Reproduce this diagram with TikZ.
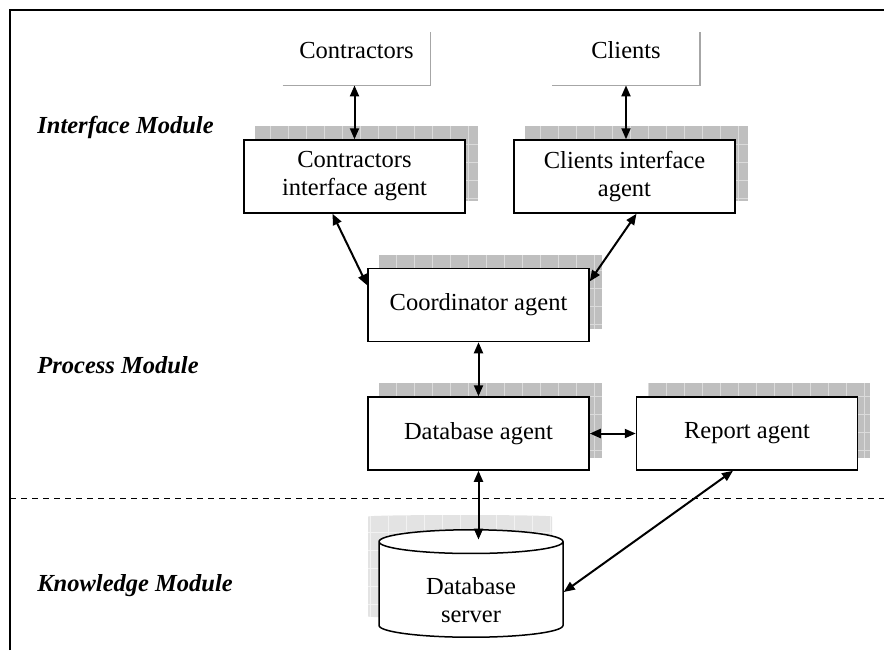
\documentclass[tikz,border=0pt]{standalone}
\usepackage{fontspec}
\setmainfont{Liberation Serif}
\usetikzlibrary{arrows.meta}
\usetikzlibrary{shapes.geometric}
\usetikzlibrary{backgrounds}

\newcommand{\gridshadow}[1]{%
  \begin{scope}[on background layer]
    \fill [gray!50] ([shift={(12,-13)}]#1.south west) rectangle ([shift={(12,-13)}]#1.north east);
    \begin{scope}
      \clip ([shift={(12,-13)}]#1.south west) rectangle ([shift={(12,-13)}]#1.north east);
      \draw [gray!28, line width=.4pt, step=9pt] ([shift={(12,-13)}]#1.south west) grid ([shift={(12,-13)}]#1.north east);
    \end{scope}
  \end{scope}}

\begin{document}
\begin{tikzpicture}[x=.5pt, y=-.5pt,
  font=\fontsize{12.25}{14}\selectfont,
  agent/.style={rectangle, draw, fill=white, line width=.75pt, minimum width=110.5pt, minimum height=36.5pt, align=center, inner sep=2pt},
  actor/.style={rectangle, minimum width=73.5pt, minimum height=26.5pt, text height=6pt, text depth=6pt},
  dbstore/.style={cylinder, shape border rotate=90, aspect=.23, draw, fill=white, line width=.75pt, minimum width=92pt, minimum height=51.5pt, align=center, anchor=shape center},
  module/.style={anchor=west, inner sep=0pt, font=\fontsize{12.25}{14}\selectfont\bfseries\itshape},
  link/.style={{Triangle[length=5.5pt,width=4.5pt]}-{Triangle[length=5.5pt,width=4.5pt]}, line width=1pt}]
\useasboundingbox (0,0) rectangle (884,650);

% frame and module border
\coordinate (fbl) at (10,650);
\coordinate (ftl) at (10,10);
\coordinate (ftr) at (884,10);
\draw [line width=1pt] (fbl) -- (ftl) -- (ftr);
\coordinate (dl) at (10,498);
\coordinate (dr) at (884,498);
\draw [line width=.5pt, dash pattern=on 3pt off 2.5pt] (dl) -- (dr);

\node [module] (imod) at (37,127) {Interface Module};
\node [module] (pmod) at (37,365) {Process Module};
\node [module] (kmod) at (37,586) {Knowledge Module};

% users
\node [actor] (contr) at (356.5,58.5) {Contractors};
\node [actor] (cli) at (626,58.5) {Clients};
\draw [gray!70, line width=.75pt] (contr.south west) -- (contr.south east) -- (contr.north east);
\draw [gray!70, line width=.75pt] (cli.south west) -- (cli.south east) -- (cli.north east);

% agents
\node [agent] (cia) at (354.5,176.5) {Contractors\\interface agent};
\node [agent] (clia) at (624.5,176.5) {Clients interface\\agent};
\node [agent] (coord) at (478.5,305) {Coordinator agent};
\node [agent] (dba) at (478.5,433.5) {Database agent};
\node [agent] (rep) at (747,433.5) {Report agent};
\gridshadow{cia}
\gridshadow{clia}
\gridshadow{coord}
\gridshadow{dba}
\gridshadow{rep}

% database server
\node [dbstore, fill=gray!22, draw=none, path picture={\draw [gray!10, line width=.4pt, step=9pt] (path picture bounding box.south west) grid (path picture bounding box.north east);}] (dbsh) at (460,566.5) {};
\node [dbstore] (db) at (471,583.5) {\rule{0pt}{17pt}Database\\server};
\coordinate (dbtop) at ([yshift=-5.25pt]db.top);

\draw [link] (contr.south -| cia.north) -- (cia.north);
\draw [link] (cli.south) -- (cli.south |- clia.north);
\draw [link] ([xshift=-11pt]cia.south) -- (coord.170);
\draw [link] ([xshift=6pt]clia.south) -- (coord.12);
\draw [link] (coord.south) -- (dba.north);
\draw [link] (dba.east) -- (rep.west);
\draw [link] (dba.south) -- (dba.south |- dbtop);
\draw [link] ([xshift=-7pt]rep.south) -- (db.east);
\end{tikzpicture}
\end{document}
